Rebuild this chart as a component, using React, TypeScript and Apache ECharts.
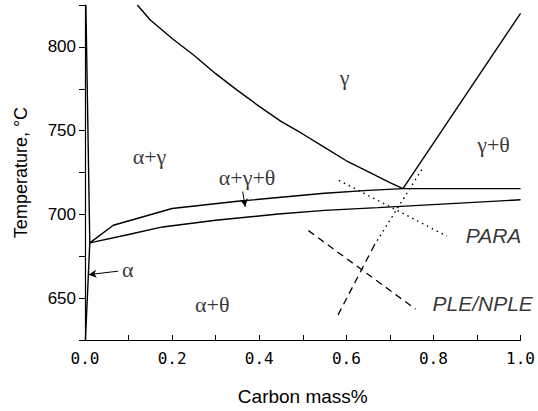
import React, { useEffect, useRef } from "react";
import * as echarts from "echarts";

// Phase boundaries [carbon mass%, temperature °C]
const alphaLine = [[0.002, 825], [0.011, 683], [0.001, 625]];
const a3Line = [[0.12, 825], [0.15, 816], [0.2, 805], [0.25, 795], [0.3, 784], [0.35, 774], [0.4, 764.5], [0.45, 755.5], [0.5, 748], [0.55, 740], [0.6, 732], [0.65, 725.5], [0.7, 719], [0.73, 715.4]];
const acmLine = [[0.73, 715.4], [1.0, 820]];
const upperA1 = [[0.011, 683], [0.065, 693.5], [0.2, 703.5], [0.35, 707.8], [0.45, 710.2], [0.55, 712.6], [0.65, 714.3], [0.73, 715.4], [1.0, 715.4]];
const lowerA1 = [[0.011, 683], [0.1, 688], [0.178, 692.5], [0.3, 696.5], [0.444, 700.2], [0.55, 702.4], [0.672, 704], [0.809, 706], [1.0, 708.7]];
// Processing paths
const paraDown = [[0.583, 720.3], [0.831, 687]];
const paraUp = [[0.664, 681.5], [0.778, 728.8]];
const pleDown = [[0.513, 690.3], [0.759, 643.4]];
const pleUp = [[0.581, 640], [0.664, 681.5]];
// Region labels
const phaseLabels = ["γ", "γ+θ", "α+γ", "α+γ+θ", "α", "α+θ"];
const phasePos = [[0.596, 782], [0.938, 741.5], [0.148, 734.5], [0.372, 722.3], [0.098, 666.9], [0.292, 646]];
const pathLabels = ["PARA", "PLE/NPLE"];
const pathPos = [[0.938, 687.6], [0.913, 646.8]];
// Arrows [from, to]
const arrows = [[[0.076, 666.1], [0.008, 664]], [[0.362, 713.6], [0.368, 704.5]]];
// Axes
const xMin = 0, xMax = 1, xStep = 0.1;
const yMin = 625, yMax = 825, yStep = 25;

const solid = (name: string, data: number[][]) => ({
  name, type: "line", data, showSymbol: false, symbol: "none",
  lineStyle: { color: "#000", width: 1.4 }, silent: true,
});

export default function App() {
  const ref = useRef<HTMLDivElement>(null);
  useEffect(() => {
    if (!ref.current) return;
    const chart = echarts.init(ref.current, null, { renderer: "svg" });
    chart.setOption({
      animation: false,
      backgroundColor: "#fff",
      grid: { left: 85, right: 14, top: 5, bottom: 68, containLabel: false },
      xAxis: {
        type: "value", min: xMin, max: xMax, interval: xStep,
        name: "Carbon mass%", nameLocation: "middle", nameGap: 47,
        nameTextStyle: { color: "#000", fontSize: 19, fontFamily: "Liberation Sans" },
        axisLine: { lineStyle: { color: "#000", width: 1.2 } },
        axisTick: { inside: true, length: 5, lineStyle: { color: "#000" } },
        axisLabel: {
          color: "#000", fontSize: 16, fontFamily: "DejaVu Sans Mono", margin: 10,
          formatter: (v: number) => (Math.round(v * 10) % 2 === 0 ? v.toFixed(1) : ""),
        },
        splitLine: { show: false },
      },
      yAxis: {
        type: "value", min: yMin, max: yMax, interval: yStep,
        name: "Temperature, °C", nameLocation: "middle", nameGap: 55,
        nameTextStyle: { color: "#000", fontSize: 18, fontFamily: "Liberation Sans" },
        axisLine: { lineStyle: { color: "#000", width: 1.2 } },
        axisTick: { inside: false, length: 6, lineStyle: { color: "#000" } },
        axisLabel: {
          color: "#000", fontSize: 17, fontFamily: "Liberation Sans", margin: 9,
          formatter: (v: number) => (v % 50 === 0 ? String(v) : ""),
        },
        splitLine: { show: false },
      },
      series: [
        solid("alpha", alphaLine),
        solid("a3", a3Line),
        solid("acm", acmLine),
        solid("upperA1", upperA1),
        solid("lowerA1", lowerA1),
        { ...solid("paraDown", paraDown), lineStyle: { color: "#000", width: 1.4, type: [1.5, 4] } },
        { ...solid("paraUp", paraUp), lineStyle: { color: "#000", width: 1.4, type: [1.5, 4] } },
        { ...solid("pleDown", pleDown), lineStyle: { color: "#000", width: 1.3, type: [7, 5] } },
        { ...solid("pleUp", pleUp), lineStyle: { color: "#000", width: 1.3, type: [7, 5] } },
        {
          name: "phases", type: "scatter", symbolSize: 0, silent: true,
          data: phaseLabels.map((t, i) => ({ value: phasePos[i], name: t })),
          label: {
            show: true, position: "inside", formatter: (p: any) => p.name,
            color: "#000", fontSize: 22, fontFamily: "Liberation Serif",
          },
          markLine: {
            silent: true, symbol: ["none", "arrow"], symbolSize: [6, 8], animation: false,
            label: { show: false },
            lineStyle: { color: "#000", width: 1, type: "solid" },
            data: arrows.map(([a, b]) => [{ coord: a }, { coord: b }]),
          },
        },
        {
          name: "paths", type: "scatter", symbolSize: 0, silent: true,
          data: pathLabels.map((t, i) => ({ value: pathPos[i], name: t })),
          label: {
            show: true, position: "inside", formatter: (p: any) => p.name,
            color: "#000", fontSize: 21, fontStyle: "italic", fontFamily: "Liberation Sans",
          },
        },
      ],
    });
    return () => chart.dispose();
  }, []);
  return <div ref={ref} style={{ position: "fixed", left: 0, top: 0, width: 538, height: 411 }} />;
}
